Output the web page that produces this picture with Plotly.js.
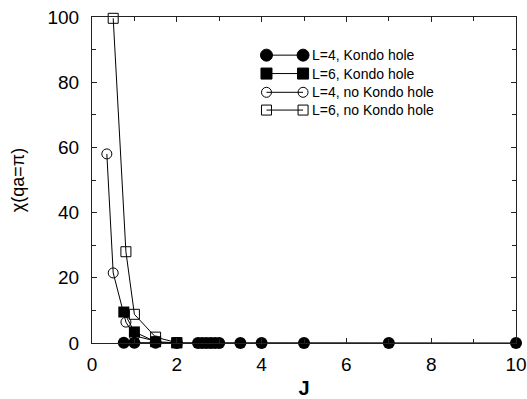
<!DOCTYPE html>
<html>
<head>
<meta charset="utf-8">
<script src="https://cdn.plot.ly/plotly-3.0.1.min.js"></script>
<style>
  html, body { margin: 0; padding: 0; background: #fff; }
  #chart { width: 527px; height: 399px; }
</style>
</head>
<body>
<div id="chart"></div>
<script>
// Staggered susceptibility chi(qa=pi) versus coupling J

// L=4, with Kondo hole
const jL4Hole   = [0.75, 1.0, 1.5, 2.0, 2.5, 2.6, 2.7, 2.8, 2.9, 3.0, 3.5, 4.0, 5.0, 7.0, 10.0];
const chiL4Hole = [0.1, 0.1, 0.05, 0.02, 0.01, 0.01, 0.01, 0.01, 0.01, 0.01, 0.0, 0.0, 0.0, 0.0, 0.0];

// L=6, with Kondo hole
const jL6Hole   = [0.75, 1.0, 1.5, 2.0];
const chiL6Hole = [9.5, 3.4, 0.4, 0.05];

// L=4, no Kondo hole
const jL4NoHole   = [0.35, 0.5, 0.8, 1.0, 1.5];
const chiL4NoHole = [58.0, 21.5, 6.4, 2.2, 0.6];

// L=6, no Kondo hole
const jL6NoHole   = [0.5, 0.8, 1.0, 1.5, 2.0];
const chiL6NoHole = [99.6, 28.0, 8.8, 1.8, 0.1];

const seriesNames = ['L=4, Kondo hole', 'L=6, Kondo hole', 'L=4, no Kondo hole', 'L=6, no Kondo hole'];

const xTickVals = [0, 2, 4, 6, 8, 10];
const yTickVals = [0, 20, 40, 60, 80, 100];

const ink = '#000';
const lineStyle = { color: ink, width: 1 };

const traces = [
  { x: jL4Hole, y: chiL4Hole, name: seriesNames[0], mode: 'lines+markers', cliponaxis: false,
    line: lineStyle, marker: { symbol: 'circle', size: 12, color: ink } },
  { x: jL6Hole, y: chiL6Hole, name: seriesNames[1], mode: 'lines+markers', cliponaxis: false,
    line: lineStyle, marker: { symbol: 'square', size: 11, color: ink } },
  { x: jL4NoHole, y: chiL4NoHole, name: seriesNames[2], mode: 'lines+markers', cliponaxis: false,
    line: lineStyle, marker: { symbol: 'circle-open', size: 10, color: ink, line: { width: 1, color: ink } } },
  { x: jL6NoHole, y: chiL6NoHole, name: seriesNames[3], mode: 'lines+markers', cliponaxis: false,
    line: lineStyle, marker: { symbol: 'square-open', size: 10, color: ink, line: { width: 1, color: ink } } }
];

// Key drawn as paper-anchored shapes: a segment with a symbol at each end
const keyRowsY = [0.883, 0.8265, 0.769, 0.7145];
const keyX0 = 0.4115, keyX1 = 0.4978, keyTextX = 0.514;
const keySymbols = [
  { type: 'circle', fill: ink, size: 12 },
  { type: 'rect', fill: ink, size: 11 },
  { type: 'circle', fill: 'rgba(0,0,0,0)', size: 10 },
  { type: 'rect', fill: 'rgba(0,0,0,0)', size: 10 }
];
const shapes = [];
const annotations = [];
keyRowsY.forEach((yy, i) => {
  shapes.push({ type: 'line', xref: 'paper', yref: 'paper', x0: keyX0, x1: keyX1, y0: yy, y1: yy,
    line: { color: ink, width: 1 } });
  [keyX0, keyX1].forEach(xx => {
    const s = keySymbols[i], h = s.size / 2;
    shapes.push({ type: s.type, xref: 'paper', yref: 'paper',
      xsizemode: 'pixel', ysizemode: 'pixel', xanchor: xx, yanchor: yy,
      x0: -h, x1: h, y0: -h, y1: h,
      fillcolor: s.fill, line: { color: ink, width: 1 } });
  });
  annotations.push({ xref: 'paper', yref: 'paper', x: keyTextX, y: yy, xanchor: 'left', yanchor: 'middle',
    text: seriesNames[i], showarrow: false,
    font: { family: 'Liberation Sans, Arial, sans-serif', size: 14, color: ink } });
});

const axisCommon = {
  showgrid: false, zeroline: false, showline: true, mirror: 'ticks',
  linecolor: '#222', linewidth: 1, ticks: 'inside', ticklen: 5, tickcolor: '#222', tickwidth: 1,
  tickfont: { family: 'Liberation Sans, Arial, sans-serif', size: 19, color: ink }
};

const layout = {
  width: 527, height: 399,
  margin: { l: 92, r: 10.5, t: 17, b: 56.3 },
  paper_bgcolor: '#fff', plot_bgcolor: '#fff',
  showlegend: false,
  xaxis: Object.assign({}, axisCommon, {
    range: [0, 10], tickvals: xTickVals, ticktext: xTickVals.map(String),
    minor: { dtick: 1, ticks: 'inside', ticklen: 4, tickcolor: '#222' },
    ticklabelstandoff: 4,
    title: { text: '<b>J</b>', standoff: 8,
      font: { family: 'Liberation Sans, Arial, sans-serif', size: 20, color: ink } }
  }),
  yaxis: Object.assign({}, axisCommon, {
    range: [0, 100], tickvals: yTickVals, ticktext: yTickVals.map(String),
    minor: { dtick: 10, ticks: 'inside', ticklen: 4, tickcolor: '#222' },
    ticklabelstandoff: 8,
    title: { text: 'χ(qa=π)', standoff: 18,
      font: { family: 'Liberation Sans, Arial, sans-serif', size: 18, color: ink } }
  }),
  shapes: shapes,
  annotations: annotations
};

Plotly.newPlot('chart', traces, layout, { displayModeBar: false, staticPlot: true });
</script>
</body>
</html>
